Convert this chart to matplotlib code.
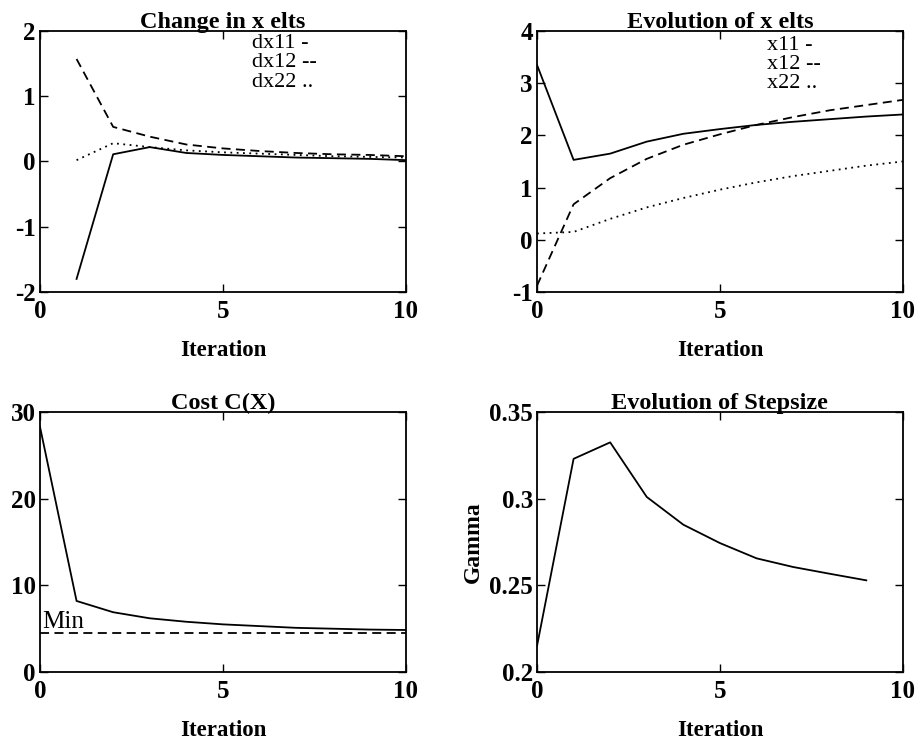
import matplotlib
matplotlib.use("Agg")
import matplotlib.pyplot as plt

plt.rcParams['font.family'] = ['Liberation Serif', 'DejaVu Serif']

# change in x elements (iterations 1..10)
it_dx = [1, 2, 3, 4, 5, 6, 7, 8, 9, 10]
dx11 = [-1.8, 0.11, 0.22, 0.13, 0.10, 0.08, 0.06, 0.05, 0.04, 0.02]
dx12 = [1.57, 0.53, 0.38, 0.26, 0.20, 0.16, 0.13, 0.11, 0.10, 0.08]
dx22 = [0.02, 0.28, 0.22, 0.17, 0.14, 0.12, 0.10, 0.08, 0.07, 0.06]

# evolution of x elements (iterations 0..10)
it_x = [0, 1, 2, 3, 4, 5, 6, 7, 8, 9, 10]
x11 = [3.35, 1.53, 1.65, 1.88, 2.03, 2.12, 2.20, 2.26, 2.31, 2.36, 2.40]
x12 = [-0.88, 0.68, 1.18, 1.55, 1.82, 2.02, 2.20, 2.35, 2.48, 2.58, 2.68]
x22 = [0.12, 0.15, 0.40, 0.62, 0.80, 0.96, 1.10, 1.22, 1.32, 1.42, 1.50]

# cost
cost = [28.3, 8.2, 6.9, 6.2, 5.8, 5.5, 5.3, 5.1, 5.0, 4.9, 4.85]
cost_min = 4.46

# step size (iterations 0..9)
it_g = [0, 1, 2, 3, 4, 5, 6, 7, 8, 9]
gamma = [0.215, 0.323, 0.3325, 0.301, 0.285, 0.2744, 0.2656, 0.2606, 0.2567, 0.2529]

fig = plt.figure(figsize=(9.17, 7.42), dpi=100)

W = 0.399
ax1 = fig.add_axes([0.0436, 0.6065, W, 0.3518])
ax2 = fig.add_axes([0.5856, 0.6065, W, 0.3518])
ax3 = fig.add_axes([0.0436, 0.0943, W, 0.3504])
ax4 = fig.add_axes([0.5856, 0.0943, W, 0.3504])

lw = 1.3
ls_dash = (0, (5, 3))
ls_dot = (0, (1, 2.5))


def style(ax, title, xlim, ylim, yticks, yticklabels):
    ax.set_xlim(*xlim)
    ax.set_ylim(*ylim)
    ax.set_xticks([0, 5, 10])
    ax.set_xticklabels(['0', '5', '10'])
    ax.set_yticks(yticks)
    ax.set_yticklabels(yticklabels)
    ax.tick_params(direction='in', top=True, right=True, length=6, width=1,
                   labelsize=18)
    ax.tick_params(axis='x', pad=6)
    ax.tick_params(axis='y', pad=3)
    for lab in ax.get_xticklabels() + ax.get_yticklabels():
        lab.set_fontweight('bold')
    for sp in ax.spines.values():
        sp.set_linewidth(1.3)
    ax.set_title(title, fontsize=17.5, fontweight='bold', pad=2)
    ax.set_xlabel('Iteration', fontsize=16.5, fontweight='bold', labelpad=12)


ax1.plot(it_dx, dx11, color='black', lw=lw)
ax1.plot(it_dx, dx12, color='black', lw=lw, ls=ls_dash)
ax1.plot(it_dx, dx22, color='black', lw=lw, ls=ls_dot)
style(ax1, 'Change in x elts', (0, 10), (-2, 2), [-2, -1, 0, 1, 2],
      ['-2', '-1', '0', '1', '2'])
for lbl, yv in zip(['dx11 -', 'dx12 --', 'dx22 ..'], [1.74, 1.44, 1.14]):
    ax1.text(5.8, yv, lbl, fontsize=16, va='baseline')

ax2.plot(it_x, x11, color='black', lw=lw)
ax2.plot(it_x, x12, color='black', lw=lw, ls=ls_dash)
ax2.plot(it_x, x22, color='black', lw=lw, ls=ls_dot)
style(ax2, 'Evolution of x elts', (0, 10), (-1, 4), [-1, 0, 1, 2, 3, 4],
      ['-1', '0', '1', '2', '3', '4'])
for lbl, yv in zip(['x11 -', 'x12 --', 'x22 ..'], [3.64, 3.27, 2.90]):
    ax2.text(6.28, yv, lbl, fontsize=16, va='baseline')

ax3.plot(it_x, cost, color='black', lw=lw)
ax3.axhline(cost_min, color='black', lw=lw, ls=ls_dash)
style(ax3, 'Cost C(X)', (0, 10), (0, 30), [0, 10, 20, 30],
      ['0', '10', '20', '30'])
ax3.text(0.05, 5.1, 'Min', fontsize=18, va='baseline')

ax4.plot(it_g, gamma, color='black', lw=lw)
style(ax4, 'Evolution of Stepsize', (0, 10), (0.2, 0.35),
      [0.2, 0.25, 0.3, 0.35], ['0.2', '0.25', '0.3', '0.35'])
ax4.set_ylabel('Gamma', fontsize=17, fontweight='bold', labelpad=4)

fig.savefig('out.png', dpi=100)
